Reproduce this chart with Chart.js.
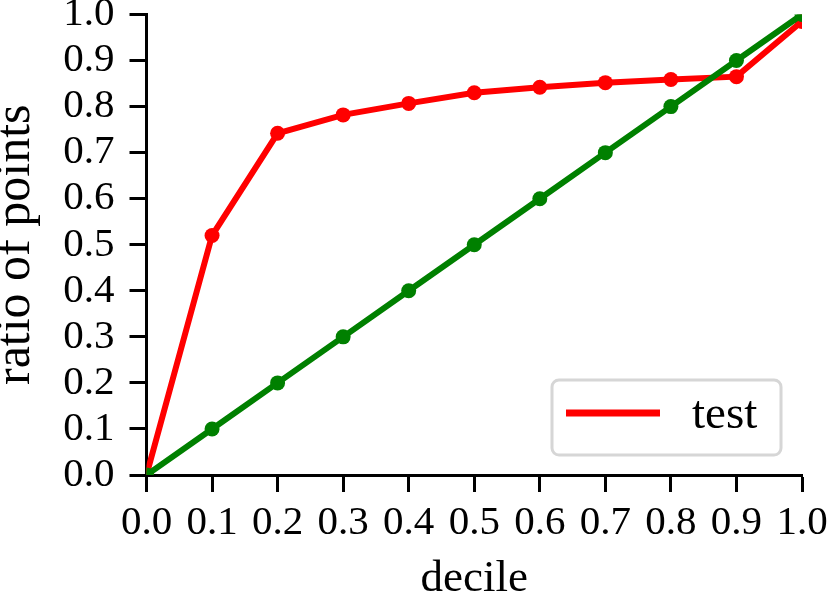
<!DOCTYPE html>
<html>
<head>
<meta charset="utf-8">
<script src="https://cdn.jsdelivr.net/npm/chart.js@4.4.0/dist/chart.umd.min.js"></script>
<style>
html,body{margin:0;padding:0;background:#fff;}
canvas{display:block;}
</style>
</head>
<body>
<canvas id="c" width="830" height="605"></canvas>
<script>
// ---- data ----
const deciles       = [0.0, 0.1, 0.2, 0.3, 0.4, 0.5, 0.6, 0.7, 0.8, 0.9, 1.0];
const testRatio     = [0.0, 0.52, 0.742, 0.782, 0.807, 0.830, 0.842, 0.852, 0.859, 0.865, 0.985];
const baselineRatio = [0.0, 0.1, 0.2, 0.3, 0.4, 0.5, 0.6, 0.7, 0.8, 0.9, 1.0];
const xTickValues   = [0.0, 0.1, 0.2, 0.3, 0.4, 0.5, 0.6, 0.7, 0.8, 0.9, 1.0];
const xTickLabels   = ['0.0','0.1','0.2','0.3','0.4','0.5','0.6','0.7','0.8','0.9','1.0'];
const yTickValues   = [0.0, 0.1, 0.2, 0.3, 0.4, 0.5, 0.6, 0.7, 0.8, 0.9, 1.0];
const yTickLabels   = ['0.0','0.1','0.2','0.3','0.4','0.5','0.6','0.7','0.8','0.9','1.0'];
const xTitle = 'decile';
const yTitle = 'ratio of points';
const testLabel = 'test';

const FONT = "'Liberation Serif', 'Times New Roman', serif";
const RED = '#ff0000';
const GREEN = '#008000';

const legendBox = {
  id: 'legendBox',
  afterDatasetsDraw(chart) {
    const ctx = chart.ctx;
    const a = chart.chartArea;
    const items = chart.data.datasets.filter(d => d.inLegend);
    const w = 229, h = 75;
    const x = a.right - 21 - w, y = a.bottom - 20 - h;
    ctx.save();
    ctx.beginPath();
    if (ctx.roundRect) ctx.roundRect(x, y, w, h, 7); else ctx.rect(x, y, w, h);
    ctx.fillStyle = 'rgba(255,255,255,0.8)';
    ctx.fill();
    ctx.lineWidth = 3;
    ctx.strokeStyle = '#d6d6d6';
    ctx.stroke();
    items.forEach((d, i) => {
      const ly = y + 33 + i * 50;
      ctx.strokeStyle = d.borderColor;
      ctx.lineWidth = 7;
      ctx.lineCap = 'butt';
      ctx.beginPath();
      ctx.moveTo(x + 14, ly);
      ctx.lineTo(x + 108, ly);
      ctx.stroke();
      ctx.fillStyle = '#000';
      ctx.font = '47px ' + FONT;
      ctx.textBaseline = 'alphabetic';
      ctx.textAlign = 'left';
      ctx.fillText(d.label, x + 140, ly + 15);
    });
    ctx.restore();
  }
};

const tickGrid = {
  display: true, drawOnChartArea: false, drawTicks: true,
  tickLength: 17, tickWidth: 3, tickColor: '#000'
};

new Chart(document.getElementById('c').getContext('2d'), {
  type: 'line',
  data: {
    datasets: [
      {
        label: testLabel,
        inLegend: true,
        data: deciles.map((x, i) => ({ x: x, y: testRatio[i] })),
        borderColor: RED, backgroundColor: RED,
        pointBackgroundColor: RED, pointBorderColor: RED,
        pointBorderWidth: 0, pointRadius: 7.5, pointHoverRadius: 7.5,
        borderWidth: 6, tension: 0, fill: false, clip: 0, order: 1
      },
      {
        label: 'baseline',
        inLegend: false,
        data: deciles.map((x, i) => ({ x: x, y: baselineRatio[i] })),
        borderColor: GREEN, backgroundColor: GREEN,
        pointBackgroundColor: GREEN, pointBorderColor: GREEN,
        pointBorderWidth: 0, pointRadius: 7.5, pointHoverRadius: 7.5,
        borderWidth: 6, tension: 0, fill: false, clip: 0, order: 0
      }
    ]
  },
  options: {
    responsive: false,
    animation: false,
    devicePixelRatio: 1,
    events: [],
    layout: { padding: { left: 0, top: 14.5, right: 28, bottom: 0 } },
    plugins: { legend: { display: false }, tooltip: { enabled: false } },
    scales: {
      x: {
        type: 'linear', min: 0, max: 1,
        afterBuildTicks(s) { s.ticks = xTickValues.map(v => ({ value: v })); },
        afterFit(s) { s.height = 130; s.paddingLeft = 0; s.paddingRight = 0; },
        grid: tickGrid,
        border: { display: true, width: 3, color: '#000' },
        ticks: {
          autoSkip: false, maxRotation: 0, minRotation: 0, padding: 7, color: '#000',
          font: { family: FONT, size: 41 },
          callback: (v, i) => xTickLabels[i]
        },
        title: {
          display: true, text: xTitle, color: '#000',
          font: { family: FONT, size: 45, lineHeight: 1 },
          padding: { top: 0, bottom: 3 }
        }
      },
      y: {
        type: 'linear', min: 0, max: 1,
        afterBuildTicks(s) { s.ticks = yTickValues.map(v => ({ value: v })); },
        afterFit(s) { s.width = 146.5; s.paddingTop = 0; s.paddingBottom = 0; },
        grid: tickGrid,
        border: { display: true, width: 3, color: '#000' },
        ticks: {
          autoSkip: false, padding: 15, color: '#000',
          font: { family: FONT, size: 41 },
          callback: (v, i) => yTickLabels[i]
        },
        title: {
          display: true, text: yTitle, color: '#000',
          font: { family: FONT, size: 50, lineHeight: 0.64 },
          padding: { top: 0, bottom: 0 }
        }
      }
    }
  },
  plugins: [legendBox]
});
</script>
</body>
</html>
